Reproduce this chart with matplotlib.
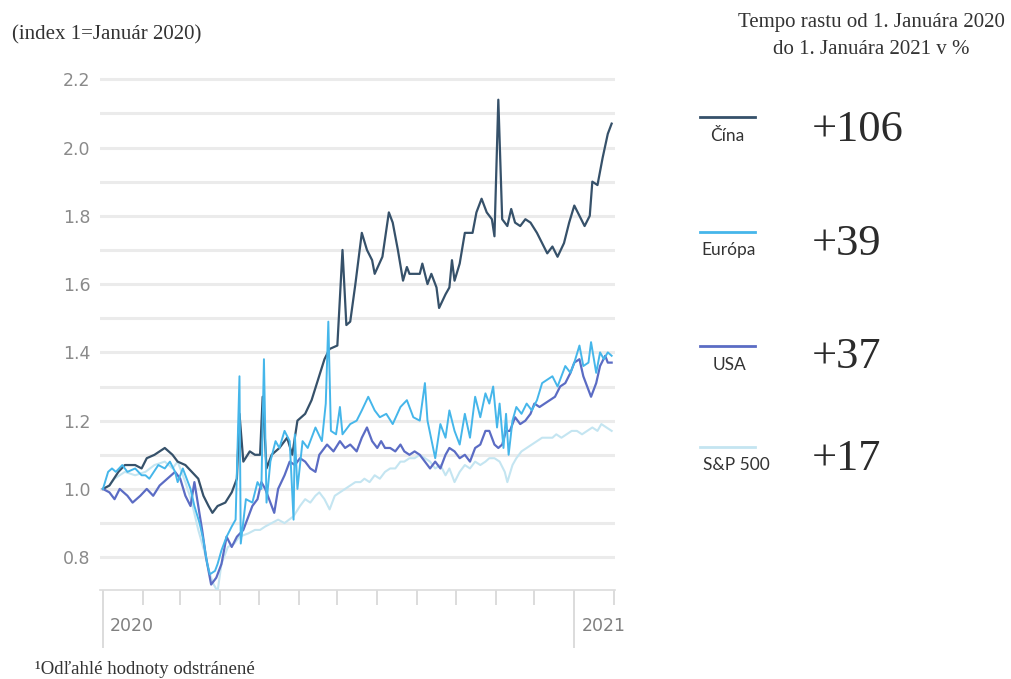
import numpy as np
import pandas as pd
import matplotlib
matplotlib.use("Agg")
import matplotlib.pyplot as plt
from matplotlib.lines import Line2D
from matplotlib.transforms import blended_transform_factory

# days since 2020-01-01 and index values (1 = January 2020)
china_days = [0, 5, 12, 17, 25, 30, 34, 40, 48, 54,
              58, 64, 69, 74, 78, 82, 85, 89, 95, 100,
              104, 106, 109, 114, 118, 122, 124, 127, 131, 137,
              143, 147, 151, 157, 162, 167, 172, 176, 182, 186,
              189, 192, 196, 201, 205, 209, 211, 217, 222, 225,
              229, 233, 236, 238, 246, 248, 252, 255, 259, 261,
              266, 269, 271, 273, 277, 281, 287, 290, 294, 298,
              302, 304, 307, 310, 314, 317, 320, 324, 328, 332,
              337, 341, 345, 349, 353, 358, 362, 366, 370, 374,
              378, 380, 384, 388, 392, 395]
china = [1.00, 1.01, 1.05, 1.07, 1.07, 1.06, 1.09, 1.10, 1.12, 1.10,
         1.08, 1.07, 1.05, 1.03, 0.98, 0.95, 0.93, 0.95, 0.96, 0.99,
         1.03, 1.22, 1.08, 1.11, 1.10, 1.10, 1.27, 1.06, 1.10, 1.12,
         1.15, 1.10, 1.20, 1.22, 1.26, 1.32, 1.38, 1.41, 1.42, 1.70,
         1.48, 1.49, 1.60, 1.75, 1.70, 1.67, 1.63, 1.68, 1.81, 1.78,
         1.70, 1.61, 1.65, 1.63, 1.63, 1.66, 1.60, 1.63, 1.59, 1.53,
         1.57, 1.59, 1.67, 1.61, 1.66, 1.75, 1.75, 1.81, 1.85, 1.81,
         1.79, 1.74, 2.14, 1.79, 1.77, 1.82, 1.78, 1.77, 1.79, 1.78,
         1.75, 1.72, 1.69, 1.71, 1.68, 1.72, 1.78, 1.83, 1.80, 1.77,
         1.80, 1.90, 1.89, 1.97, 2.04, 2.07]

europe_days = [0, 4, 7, 10, 15, 19, 25, 30, 33, 36,
               43, 48, 52, 56, 58, 62, 65, 68, 71, 75,
               78, 81, 83, 87, 89, 92, 96, 100, 103, 106,
               107, 111, 116, 120, 123, 125, 127, 130, 134, 137,
               141, 145, 148, 149, 151, 155, 159, 165, 170, 173,
               175, 177, 181, 184, 186, 192, 197, 201, 206, 211,
               215, 220, 225, 231, 236, 241, 246, 250, 252, 258,
               262, 266, 269, 273, 277, 281, 285, 289, 293, 297,
               300, 303, 306, 308, 311, 313, 315, 318, 321, 325,
               329, 333, 337, 341, 345, 349, 353, 356, 359, 363,
               366, 370, 373, 377, 379, 383, 386, 389, 392, 395]
europe = [1.00, 1.05, 1.06, 1.05, 1.07, 1.05, 1.06, 1.04, 1.04, 1.03,
          1.07, 1.06, 1.08, 1.05, 1.02, 1.06, 1.03, 1.00, 0.95, 0.90,
          0.85, 0.78, 0.75, 0.76, 0.78, 0.82, 0.86, 0.89, 0.91, 1.33,
          0.84, 0.97, 0.96, 1.02, 1.00, 1.38, 0.96, 1.08, 1.14, 1.12,
          1.17, 1.14, 0.91, 1.16, 1.00, 1.14, 1.12, 1.18, 1.14, 1.25,
          1.49, 1.17, 1.16, 1.24, 1.16, 1.19, 1.20, 1.23, 1.27, 1.23,
          1.21, 1.22, 1.19, 1.24, 1.26, 1.21, 1.20, 1.31, 1.20, 1.09,
          1.19, 1.15, 1.23, 1.17, 1.13, 1.22, 1.15, 1.27, 1.21, 1.28,
          1.25, 1.30, 1.18, 1.25, 1.12, 1.22, 1.10, 1.20, 1.24, 1.22,
          1.25, 1.23, 1.26, 1.31, 1.32, 1.33, 1.30, 1.33, 1.36, 1.34,
          1.37, 1.42, 1.36, 1.37, 1.43, 1.34, 1.40, 1.38, 1.40, 1.39]

usa_days = [0, 5, 9, 13, 19, 23, 29, 34, 39, 44,
            50, 56, 60, 64, 68, 71, 74, 77, 80, 84,
            88, 92, 96, 100, 104, 109, 113, 116, 120, 123,
            126, 130, 133, 136, 141, 145, 149, 153, 157, 161,
            165, 168, 174, 179, 184, 188, 192, 197, 201, 205,
            209, 213, 216, 219, 223, 227, 231, 234, 238, 242,
            246, 250, 254, 258, 262, 266, 269, 273, 277, 281,
            285, 289, 293, 297, 300, 304, 307, 310, 313, 316,
            320, 324, 328, 332, 335, 339, 343, 347, 351, 355,
            359, 363, 366, 370, 373, 377, 379, 383, 386, 390,
            392, 395]
usa = [1.00, 0.99, 0.97, 1.00, 0.98, 0.96, 0.98, 1.00, 0.98, 1.01,
       1.03, 1.05, 1.03, 0.98, 0.95, 1.02, 0.95, 0.88, 0.80, 0.72,
       0.74, 0.78, 0.86, 0.83, 0.86, 0.88, 0.92, 0.95, 0.97, 1.02,
       1.00, 0.96, 0.93, 1.00, 1.04, 1.08, 1.07, 1.09, 1.08, 1.06,
       1.05, 1.10, 1.13, 1.11, 1.14, 1.12, 1.13, 1.11, 1.15, 1.18,
       1.14, 1.12, 1.14, 1.12, 1.12, 1.11, 1.13, 1.11, 1.10, 1.11,
       1.10, 1.08, 1.06, 1.08, 1.06, 1.10, 1.12, 1.11, 1.09, 1.10,
       1.08, 1.12, 1.13, 1.17, 1.17, 1.13, 1.12, 1.13, 1.17, 1.17,
       1.21, 1.19, 1.20, 1.22, 1.25, 1.24, 1.25, 1.26, 1.27, 1.30,
       1.31, 1.34, 1.37, 1.38, 1.33, 1.29, 1.27, 1.31, 1.36, 1.39,
       1.37, 1.37]

sp500_days = [0, 5, 9, 17, 25, 33, 40, 48, 54, 58,
              64, 69, 74, 77, 80, 83, 86, 89, 92, 97,
              102, 106, 113, 118, 122, 126, 131, 136, 141, 148,
              153, 157, 161, 165, 168, 172, 176, 180, 184, 188,
              192, 196, 200, 203, 207, 211, 215, 219, 223, 227,
              231, 234, 238, 242, 246, 250, 254, 258, 262, 266,
              269, 273, 277, 281, 285, 289, 293, 297, 300, 304,
              308, 312, 314, 318, 321, 325, 329, 333, 337, 341,
              345, 349, 352, 356, 360, 364, 368, 372, 376, 380,
              384, 387, 391, 395]
sp500 = [1.00, 1.01, 1.03, 1.05, 1.04, 1.05, 1.07, 1.08, 1.06, 1.08,
         1.02, 0.96, 0.88, 0.84, 0.80, 0.75, 0.72, 0.70, 0.78, 0.83,
         0.84, 0.86, 0.87, 0.88, 0.88, 0.89, 0.90, 0.91, 0.90, 0.92,
         0.95, 0.97, 0.96, 0.98, 0.99, 0.97, 0.94, 0.98, 0.99, 1.00,
         1.01, 1.02, 1.02, 1.03, 1.02, 1.04, 1.03, 1.05, 1.06, 1.06,
         1.08, 1.08, 1.09, 1.09, 1.10, 1.09, 1.08, 1.06, 1.07, 1.04,
         1.06, 1.02, 1.05, 1.07, 1.06, 1.08, 1.07, 1.08, 1.09, 1.09,
         1.08, 1.05, 1.02, 1.07, 1.09, 1.11, 1.12, 1.13, 1.14, 1.15,
         1.15, 1.15, 1.16, 1.15, 1.16, 1.17, 1.17, 1.16, 1.17, 1.18,
         1.17, 1.19, 1.18, 1.17]

names = ["Čína", "Európa", "USA", "S&P 500"]
growth = ["+106", "+39", "+37", "+17"]
colors = ["#36516a", "#45b6ea", "#5b6cc4", "#c4e5f1"]

month_days = (pd.date_range("2020-01-01", "2021-02-01", freq="MS")
              - pd.Timestamp("2020-01-01")).days
year_days = [0, 366]
year_labels = ["2020", "2021"]

fig = plt.figure(figsize=(10.11, 6.79), dpi=100)
ax = fig.add_axes([100 / 1011, 1 - 590 / 679, 515 / 1011, (590 - 72.4) / 679])

ax.plot(sp500_days, sp500, color=colors[3], lw=1.5, zorder=3)
ax.plot(china_days, china, color=colors[0], lw=1.6, zorder=4)
ax.plot(usa_days, usa, color=colors[2], lw=1.6, zorder=5)
ax.plot(europe_days, europe, color=colors[1], lw=1.4, zorder=6)

ax.set_xlim(-2.3, 397.6)
ax.set_ylim(0.704, 2.22)
ax.set_yticks(np.arange(0.8, 2.21, 0.2))
ax.set_yticklabels([f"{v:.1f}" for v in np.arange(0.8, 2.21, 0.2)])
ax.set_yticks(np.arange(0.9, 2.11, 0.2), minor=True)
ax.grid(axis="y", which="both", color="#ebebeb", lw=2.2, zorder=0)
ax.set_axisbelow(True)
ax.tick_params(axis="y", which="both", length=0, pad=7, labelsize=12.5,
               labelcolor="#8a8a8a")

ax.set_xticks(year_days)
ax.set_xticks(month_days, minor=True)
ax.tick_params(axis="x", which="major", length=42, width=1.2, color="#d6d6d6",
               labelbottom=False)
ax.tick_params(axis="x", which="minor", length=11, width=1.2, color="#d6d6d6")

for s in ["left", "right", "top"]:
    ax.spines[s].set_visible(False)
ax.spines["bottom"].set_color("#dcdcdc")
ax.spines["bottom"].set_linewidth(1.2)

trans = blended_transform_factory(ax.transData, ax.transAxes)
for d, lab in zip(year_days, year_labels):
    ax.text(d + 5.5, -0.07, lab, transform=trans, ha="left", va="center",
            fontsize=12.5, color="#808080")

serif = "Liberation Serif"
fig.text(12 / 1011, 1 - 35 / 679, "(index 1=Január 2020)", family=serif,
         fontsize=15, color="#333333", ha="left", va="center")
fig.text(871 / 1011, 1 - 22 / 679, "Tempo rastu od 1. Januára 2020",
         family=serif, fontsize=15, color="#333333", ha="center", va="center")
fig.text(871 / 1011, 1 - 50 / 679, "do 1. Januára 2021 v %",
         family=serif, fontsize=15, color="#333333", ha="center", va="center")
fig.text(35 / 1011, 1 - 670 / 679, "¹Odľahlé hodnoty odstránené",
         family=serif, fontsize=13.5, color="#333333", ha="left", va="center")

row_line_y = [117, 232, 346, 447]
row_label_y = [136, 250, 365, 465]
row_num_y = [130, 244, 357, 459]
label_x = [727, 729, 729, 736]
for i in range(4):
    fig.add_artist(Line2D([700 / 1011, 755 / 1011],
                          [1 - row_line_y[i] / 679] * 2,
                          transform=fig.transFigure, color=colors[i], lw=2))
    fig.text(label_x[i] / 1011, 1 - row_label_y[i] / 679, names[i],
             family="Lato", fontsize=12.5, color="#333333",
             ha="center", va="center")
    fig.text(812 / 1011, 1 - row_num_y[i] / 679, growth[i], family=serif,
             fontsize=32, color="#2b2b2b", ha="left", va="center")

fig.savefig("out.png", dpi=100)
